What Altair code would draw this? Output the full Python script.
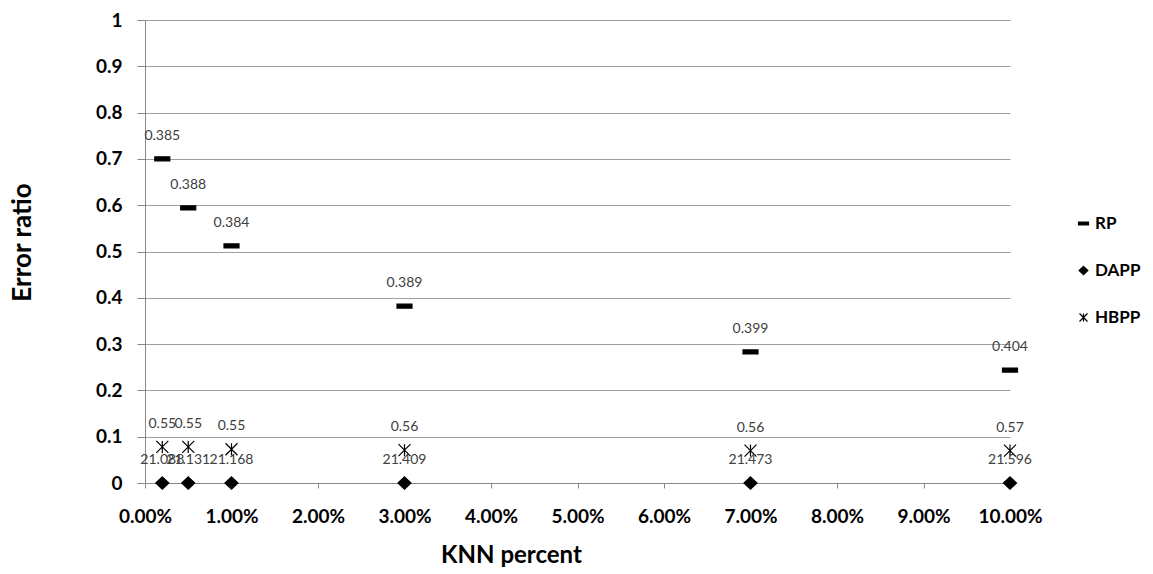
import altair as alt
import pandas as pd

knn_pct = [0.2, 0.5, 1, 3, 7, 10]
series_names = ["RP", "DAPP", "HBPP"]
rp_vals = [0.70, 0.594, 0.512, 0.382, 0.283, 0.244]
dapp_vals = [0.0, 0.0, 0.0, 0.0, 0.0, 0.0]
hbpp_vals = [0.078, 0.078, 0.073, 0.071, 0.070, 0.070]
rp_labels = ["0.385", "0.388", "0.384", "0.389", "0.399", "0.404"]
dapp_labels = ["21.088", "21.131", "21.168", "21.409", "21.473", "21.596"]
hbpp_labels = ["0.55", "0.55", "0.55", "0.56", "0.56", "0.57"]
x_ticks = [0, 1, 2, 3, 4, 5, 6, 7, 8, 9, 10]
y_ticks = [0, 0.1, 0.2, 0.3, 0.4, 0.5, 0.6, 0.7, 0.8, 0.9, 1.0]

rows = []
for name, vals, labs in [("RP", rp_vals, rp_labels), ("DAPP", dapp_vals, dapp_labels), ("HBPP", hbpp_vals, hbpp_labels)]:
    for x, v, l in zip(knn_pct, vals, labs):
        rows.append({"series": name, "knn": x, "err": v, "label": l})
df = pd.DataFrame(rows)

FONT = "Lato"
DASH = "M-1,-0.27L1,-0.27L1,0.27L-1,0.27Z"
DIAMOND = "M0,-0.82L0.87,0L0,0.82L-0.87,0Z"
STAR = "M-0.8,-0.8L0.8,0.8M-0.8,0.8L0.8,-0.8M0,-0.8L0,0.8"

x_enc = alt.X(
    "knn:Q",
    scale=alt.Scale(domain=[0, 10], nice=False, zero=False),
    axis=alt.Axis(
        values=x_ticks,
        labelExpr="format(datum.value/100, '.2%')",
        title="KNN percent",
        titleFont=FONT, titleFontSize=24, titleFontWeight="bold", titleColor="#000",
        titleX=366, titleY=72, titleBaseline="middle",
        labelFont=FONT, labelFontSize=19, labelFontWeight="bold", labelColor="#000",
        labelPadding=19, tickSize=5, tickColor="#888", domainColor="#888",
        grid=False, labelFlush=False, labelOverlap=False,
    ),
)
y_enc = alt.Y(
    "err:Q",
    scale=alt.Scale(domain=[0, 1], nice=False),
    axis=alt.Axis(
        values=y_ticks,
        format="~g",
        title="Error ratio",
        titleFont=FONT, titleFontSize=26, titleFontWeight="bold", titleColor="#000",
        titleX=-123, titleY=222, titleAngle=-90, titleBaseline="middle", titleAlign="center",
        labelFont=FONT, labelFontSize=19, labelFontWeight="bold", labelColor="#000",
        labelPadding=15, tickSize=8, tickColor="#888", domainColor="#888",
        grid=True, gridColor="#a0a0a0", gridWidth=1.2,
        labelFlush=False, labelOverlap=False,
    ),
)

leg = alt.Legend(
    title=" ", titleFontSize=2, titlePadding=193, orient="right", offset=65,
    labelFont=FONT, labelFontSize=17, labelFontWeight="bold", labelColor="#000",
    symbolSize=100, symbolStrokeColor="black", symbolFillColor="black", symbolStrokeWidth=1.2,
    rowPadding=29, labelOffset=3,
)

points = alt.Chart(df).mark_point(
    opacity=1, filled=False, fill="black", strokeWidth=1.2, size=225
).encode(
    x=x_enc,
    y=y_enc,
    shape=alt.Shape("series:N", scale=alt.Scale(domain=series_names, range=[DASH, DIAMOND, STAR]), legend=leg),
    stroke=alt.Stroke("series:N", scale=alt.Scale(domain=series_names, range=["black", "black", "black"]), legend=leg),
)

labels = alt.Chart(df).mark_text(dy=-23, fontSize=14, font=FONT, color="#404040").encode(
    x="knn:Q", y="err:Q", text="label:N"
)

chart = alt.layer(points, labels).properties(
    width=865, height=463,
    autosize=alt.AutoSizeParams(type="none"),
    padding={"left": 145, "top": 20, "right": 143, "bottom": 91},
).configure_view(stroke=None)

chart.save("out.html", embed_options={"renderer": "svg", "actions": False})
